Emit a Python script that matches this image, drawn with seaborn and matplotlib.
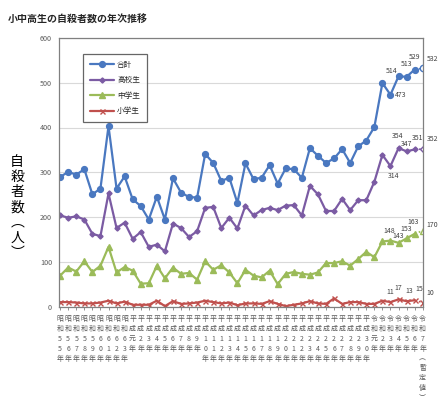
import numpy as np
import pandas as pd
import matplotlib
matplotlib.use("Agg")
import matplotlib.pyplot as plt
import seaborn as sns

# 年（縦書きラベル）
years = ["昭和55年", "昭和56年", "昭和57年", "昭和58年", "昭和59年", "昭和60年",
         "昭和61年", "昭和62年", "昭和63年", "平成元年", "平成2年", "平成3年",
         "平成4年", "平成5年", "平成6年", "平成7年", "平成8年", "平成9年",
         "平成10年", "平成11年", "平成12年", "平成13年", "平成14年", "平成15年",
         "平成16年", "平成17年", "平成18年", "平成19年", "平成20年", "平成21年",
         "平成22年", "平成23年", "平成24年", "平成25年", "平成26年", "平成27年",
         "平成28年", "平成29年", "平成30年", "令和元年", "令和2年", "令和3年",
         "令和4年", "令和5年", "令和6年", "令和7年︵暫定値︶"]

total = [290, 301, 295, 307, 251, 264, 403, 264, 291, 240, 225, 195, 246, 195,
         287, 255, 245, 244, 341, 321, 281, 288, 232, 320, 285, 288, 316, 275,
         309, 307, 288, 354, 337, 321, 331, 352, 321, 358, 371, 401, 499, 473,
         514, 513, 529, 532]
high = [204, 199, 202, 195, 163, 158, 253, 176, 188, 152, 167, 134, 139, 124,
        186, 176, 156, 169, 221, 223, 176, 199, 175, 226, 204, 216, 221, 216,
        226, 227, 204, 270, 251, 214, 214, 241, 216, 238, 238, 279, 339, 314,
        354, 347, 351, 352]
middle = [70, 88, 79, 102, 78, 92, 134, 77, 89, 81, 52, 53, 92, 64, 88, 74, 76,
          61, 102, 83, 93, 77, 53, 83, 70, 66, 81, 51, 74, 78, 74, 72, 77, 98,
          98, 102, 92, 107, 123, 111, 146, 148, 143, 153, 163, 170]
elem = [11, 11, 10, 8, 8, 10, 14, 8, 12, 5, 5, 5, 14, 2, 13, 7, 8, 10, 14, 11,
        8, 10, 4, 8, 8, 7, 13, 7, 2, 5, 8, 13, 8, 7, 19, 7, 11, 11, 7, 7, 14,
        11, 17, 13, 15, 10]

names = ["合計", "高校生", "中学生", "小学生"]
colors = ["#4A78C0", "#7B5BA3", "#9BBB59", "#C0504D"]
markers = ["o", "D", "^", "x"]
msizes = [4.2, 2.6, 4.0, 3.6]

sns.set_style("white")
plt.rcParams["font.family"] = ["Noto Sans CJK JP", "DejaVu Sans"]

fig = plt.figure(figsize=(4.4, 4.08), dpi=100)
ax = fig.add_axes([0.134, 0.2475, 0.827, 0.66])

xs = np.arange(len(years))
series = [total, high, middle, elem]

for vals, name, c, m, ms in zip(series, names, colors, markers, msizes):
    df = pd.DataFrame({"x": xs, "y": vals})
    sns.lineplot(data=df.iloc[:-1], x="x", y="y", color=c, marker=m,
                 markersize=ms, markeredgecolor=c, markeredgewidth=1.0,
                 linewidth=1.6, ax=ax, label=name)
    sns.lineplot(data=df.iloc[-2:], x="x", y="y", color=c, linestyle=":",
                 linewidth=1.2, ax=ax, legend=False)
    ax.plot(xs[-1], vals[-1], marker=m, markersize=ms + 0.4, color=c,
            markerfacecolor="white", markeredgewidth=1.0, linestyle="none")

# データラベル（令和3年〜令和7年）
offs = {
    0: [(3, 0, "left", "center"), (-1, 4, "right", "center"), (0, 6, "center", "bottom"),
        (0, 6, "center", "bottom"), (3, 4, "left", "bottom")],
    1: [(2, -4, "center", "top"), (-1, 6, "center", "bottom"), (0, 2.5, "center", "bottom"),
        (2, 5.5, "center", "bottom"), (3, 4, "left", "bottom")],
    2: [(-1, 4, "center", "bottom"), (0, 2, "center", "bottom"), (0, 4, "center", "bottom"),
        (-1, 6, "center", "bottom"), (3, 1.5, "left", "bottom")],
    3: [(0, 4.5, "center", "bottom"), (0, 5.5, "center", "bottom"), (2, 4.5, "center", "bottom"),
        (3, 5.5, "center", "bottom"), (3, 4, "left", "bottom")],
}
for k, vals in enumerate(series):
    for j, i in enumerate(range(41, 46)):
        dx, dy, ha, va = offs[k][j]
        ax.annotate(str(vals[i]), xy=(i, vals[i]), xytext=(dx, dy),
                    textcoords="offset points", ha=ha, va=va,
                    fontsize=5.0, color="#404040", annotation_clip=False)

ax.set_xlim(-0.15, 45.02)
ax.set_ylim(0, 600)
ax.set_yticks(range(0, 601, 100))
ax.yaxis.grid(True, color="#D9D9D9", linewidth=0.8)
ax.set_axisbelow(True)
ax.tick_params(axis="y", length=0, labelsize=5.2, labelcolor="#595959", pad=5)

ax.set_xticks(xs)
ax.set_xticklabels(["\n".join(list(y)) for y in years], fontsize=5.0,
                   color="#595959", linespacing=1.3, va="top")
ax.tick_params(axis="x", length=2.5, width=0.6, color="#808080", pad=3.5,
               direction="out", bottom=True)

for s in ax.spines.values():
    s.set_color("#808080")
    s.set_linewidth(0.9)

ax.set_xlabel("")
ax.set_ylabel("自\n殺\n者\n数\n︵\n人\n︶", rotation=0, fontsize=10,
              linespacing=1.1, va="center", ha="center", color="black")
ax.yaxis.set_label_coords(-0.115, 0.37)

leg = ax.legend(loc="upper left", bbox_to_anchor=(0.055, 0.955), fontsize=5.5,
                frameon=True, fancybox=False, edgecolor="#404040",
                handlelength=3.2, labelspacing=1.0, borderpad=0.9,
                handletextpad=0.4)
leg.get_frame().set_linewidth(0.9)

fig.text(0.018, 0.951, "小中高生の自殺者数の年次推移", fontsize=7.2,
         fontweight="bold", va="center", ha="left")

fig.savefig("out.png", dpi=100)
